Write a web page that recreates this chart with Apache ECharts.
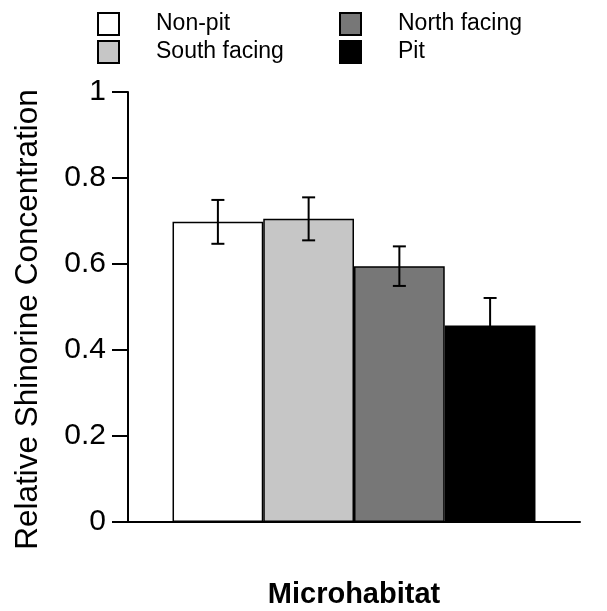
<!DOCTYPE html>
<html>
<head>
<meta charset="utf-8">
<script src="https://cdn.jsdelivr.net/npm/echarts@6/dist/echarts.min.js"></script>
<style>html,body{margin:0;padding:0;background:#fff}#c{width:607px;height:611px}</style>
</head>
<body>
<div id="c"></div>
<script>
const categories = ['Microhabitat'];
const seriesNames = ['Non-pit', 'South facing', 'North facing', 'Pit'];
const means = [0.698, 0.705, 0.595, 0.457];
const errLow = [0.647, 0.655, 0.549, 0.393];
const errHigh = [0.749, 0.755, 0.641, 0.521];
const colors = ['#ffffff', '#c6c6c6', '#777777', '#000000'];
const yTicks = [0, 0.2, 0.4, 0.6, 0.8, 1];

const catGap = 0.197;
const FONT = 'Liberation Sans, Arial, sans-serif';

const chart = echarts.init(document.getElementById('c'), null, {renderer: 'canvas'});

const barSeries = seriesNames.map((name, i) => ({
  name: name,
  type: 'bar',
  data: [means[i]],
  barGap: '0%',
  barCategoryGap: (catGap * 100) + '%',
  itemStyle: {color: colors[i], borderColor: '#000', borderWidth: 1.5},
  emphasis: {disabled: true},
  animation: false
}));

const errData = seriesNames.map((n, i) => [0, errLow[i], errHigh[i], i]);

const errSeries = {
  type: 'custom',
  data: errData,
  encode: {x: 0, y: [1, 2]},
  z: 10,
  animation: false,
  renderItem: function (params, api) {
    const cat = api.value(0);
    const lo = api.coord([cat, api.value(1)]);
    const hi = api.coord([cat, api.value(2)]);
    const band = api.size([1, 0])[0];
    const barW = band * (1 - catGap) / seriesNames.length;
    const idx = api.value(3);
    const x = lo[0] + (idx - (seriesNames.length - 1) / 2) * barW;
    const cap = 6.5;
    const st = {stroke: '#000', lineWidth: 2};
    return {
      type: 'group',
      children: [
        {type: 'line', shape: {x1: x, y1: lo[1], x2: x, y2: hi[1]}, style: st},
        {type: 'line', shape: {x1: x - cap, y1: lo[1], x2: x + cap, y2: lo[1]}, style: st},
        {type: 'line', shape: {x1: x - cap, y1: hi[1], x2: x + cap, y2: hi[1]}, style: st}
      ]
    };
  }
};

const legendCommon = {
  orient: 'vertical',
  top: 12,
  padding: 0,
  itemWidth: 21,
  itemHeight: 22,
  itemGap: 4,
  icon: 'rect',
  selectedMode: false,
  textStyle: {fontFamily: FONT, fontSize: 23, color: '#000', padding: [0, 0, 0, 32]}
};

chart.setOption({
  backgroundColor: '#fff',
  animation: false,
  textStyle: {fontFamily: FONT},
  legend: [
    Object.assign({}, legendCommon, {left: 97, data: [seriesNames[0], seriesNames[1]]}),
    Object.assign({}, legendCommon, {left: 339, data: [seriesNames[2], seriesNames[3]]})
  ],
  grid: {left: 128, right: 27, top: 92, bottom: 89, containLabel: false, outerBoundsMode: 'none'},
  xAxis: {
    type: 'category',
    data: categories,
    name: 'Microhabitat',
    nameLocation: 'middle',
    nameGap: 58,
    nameTextStyle: {fontFamily: FONT, fontSize: 29, fontWeight: 'bold', color: '#000'},
    axisLine: {lineStyle: {color: '#000', width: 2}},
    axisTick: {show: false},
    axisLabel: {show: false}
  },
  yAxis: {
    type: 'value',
    min: yTicks[0],
    max: yTicks[yTicks.length - 1],
    interval: 0.2,
    name: 'Relative Shinorine Concentration',
    nameLocation: 'middle',
    nameGap: 84,
    nameTextStyle: {fontFamily: FONT, fontSize: 31.5, color: '#000', padding: [0, 25, 0, 0]},
    axisLine: {show: true, lineStyle: {color: '#000', width: 2}},
    axisTick: {show: true, length: 16, lineStyle: {color: '#000', width: 2}},
    axisLabel: {fontFamily: FONT, fontSize: 30, color: '#000', margin: 22},
    splitLine: {show: false}
  },
  series: barSeries.concat([errSeries])
});
</script>
</body>
</html>
